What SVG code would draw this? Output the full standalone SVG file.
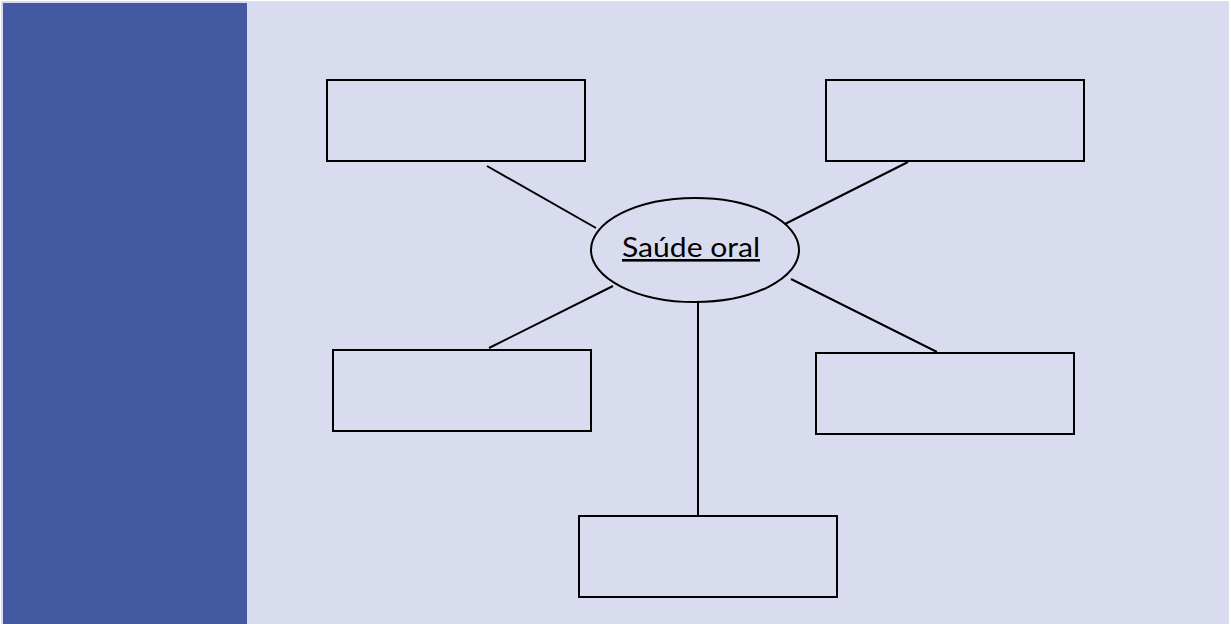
<svg xmlns="http://www.w3.org/2000/svg" width="1231" height="624" viewBox="0 0 1231 624">
<style>
.box{fill:none;stroke:#000;stroke-width:2}
.conn{stroke:#000;stroke-width:2;fill:none}
.lbl{font-family:Lato,"Open Sans","Liberation Sans",sans-serif;font-size:26px;fill:#000;text-decoration:underline}
</style>
<rect x="0" y="0" width="1231" height="624" fill="#ffffff"/>
<rect x="1" y="1" width="1228" height="623" fill="#D9DCEF"/>
<rect x="3" y="3" width="244" height="621" fill="#4559A3"/>
<g id="connectors">
<line class="conn" x1="487" y1="166" x2="596" y2="228"/>
<line class="conn" x1="908" y1="162" x2="783" y2="225"/>
<line class="conn" x1="613" y1="286" x2="489" y2="348"/>
<line class="conn" x1="791" y1="279" x2="937" y2="352"/>
<line class="conn" x1="698" y1="302" x2="698" y2="517"/>
</g>
<g id="center">
<ellipse cx="695" cy="250" rx="104" ry="52" fill="#D9DCEF" stroke="#000" stroke-width="2"/>
<text class="lbl" x="691" y="257" text-anchor="middle" textLength="138" lengthAdjust="spacingAndGlyphs">Saúde oral</text>
</g>
<g id="box1"><rect class="box" x="327" y="80" width="258" height="81"/></g>
<g id="box2"><rect class="box" x="826" y="80" width="258" height="81"/></g>
<g id="box3"><rect class="box" x="333" y="350" width="258" height="81"/></g>
<g id="box4"><rect class="box" x="816" y="353" width="258" height="81"/></g>
<g id="box5"><rect class="box" x="579" y="516" width="258" height="81"/></g>
</svg>
